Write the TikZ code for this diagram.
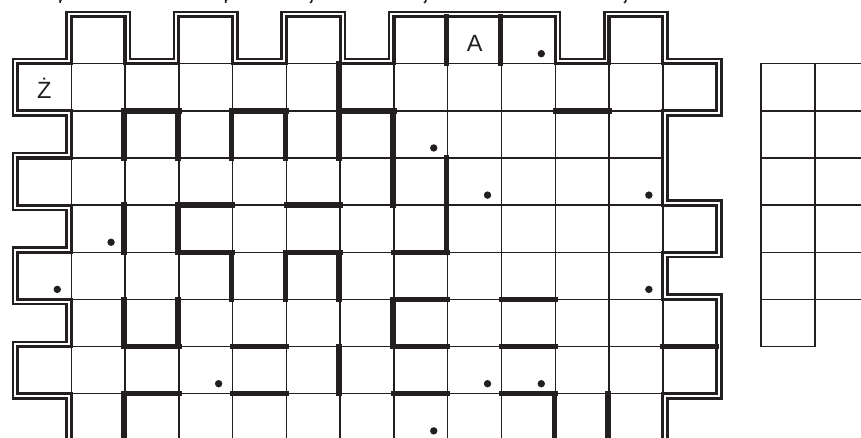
\documentclass[tikz,border=0pt]{standalone}
\usepackage{fontspec}
\setmainfont{Liberation Sans}
\definecolor{ink}{RGB}{35,31,32}
\newcommand\gridoutline{(1,0) -- (2,0) -- (2,1) -- (3,1) -- (3,0) -- (4,0) -- (4,1) -- (5,1) -- (5,0) -- (6,0) -- (6,1) -- (7,1) -- (7,0) -- (10,0) -- (10,1) -- (11,1) -- (11,0) -- (12,0) -- (12,1) -- (13,1) -- (13,2) -- (12,2) -- (12,4) -- (13,4) -- (13,5) -- (12,5) -- (12,6) -- (13,6) -- (13,8) -- (12,8) -- (12,9) -- (1,9) -- (1,8) -- (0,8) -- (0,7) -- (1,7) -- (1,6) -- (0,6) -- (0,5) -- (1,5) -- (1,4) -- (0,4) -- (0,3) -- (1,3) -- (1,2) -- (0,2) -- (0,1) -- (1,1) -- cycle}
\begin{document}
\begin{tikzpicture}[x=53.78pt,y=-47.15pt,
  thingrid/.style={draw=ink,line width=1.5pt},
  wall/.style={draw=ink,line width=5.4pt,line cap=rect},
  dotmark/.style={fill=ink,circle,inner sep=0pt,minimum size=7.4pt},
  letter/.style={font=\fontsize{23.5}{23.5}\selectfont,text=ink,anchor=base,inner sep=0pt},
  tail/.style={draw=ink,line width=1.6pt}]
\useasboundingbox[fill=white] (-17.5pt,16.5pt) rectangle (843.5pt,-420.5pt);
% double border
\draw[ink,line width=12pt,line join=miter] \gridoutline;
\draw[white,line width=7pt,line join=miter] \gridoutline;
\fill[white] \gridoutline;
% cells
\foreach \r/\cs in {0/{1,3,5,7,8,9,11},1/{0,...,12},2/{1,...,11},3/{0,...,11},4/{1,...,12},5/{0,...,11},6/{1,...,12},7/{0,...,12},8/{1,...,11}}
  \foreach \c in \cs
    \draw[thingrid] (\c,\r) rectangle ++(1,1);
\draw[ink,line width=3.2pt,line join=miter] \gridoutline;
% thick walls
\begin{scope}[xshift=-1pt]
\draw[wall] (8,0) -- (8,1) (9,0) -- (9,1) (6,1) -- (6,3)
  (2,2) -- (2,3) (3,2) -- (3,3) (4,2) -- (4,3) (5,2) -- (5,3)
  (7,2) -- (7,4) (8,3) -- (8,5) (2,4) -- (2,5) (3,4) -- (3,5)
  (4,5) -- (4,6) (5,5) -- (5,6) (6,5) -- (6,6)
  (2,6) -- (2,7) (3,6) -- (3,7) (7,6) -- (7,7) (6,7) -- (6,8)
  (2,8) -- (2,9) (10,8) -- (10,9) (11,8) -- (11,9);
\end{scope}
\draw[wall] (2,2) -- (3,2) (4,2) -- (5,2) (6,2) -- (7,2) (10,2) -- (11,2)
  (3,4) -- (4,4) (5,4) -- (6,4)
  (3,5) -- (4,5) (5,5) -- (6,5) (7,5) -- (8,5)
  (7,6) -- (8,6) (9,6) -- (10,6)
  (2,7) -- (3,7) (4,7) -- (5,7) (7,7) -- (8,7) (9,7) -- (10,7) (12,7) -- (13,7)
  (2,8) -- (3,8) (4,8) -- (5,8) (7,8) -- (8,8) (9,8) -- (10,8);
% dots
\foreach \c/\r in {9/0,7/2,8/3,11/3,1/4,0/5,11/5,3/7,8/7,9/7,7/8}
  \node[dotmark] (d\c-\r) at ([xshift=-14pt,yshift=10pt]\c+1,\r+1) {};
% letters
\node[letter] (zdot) at ([yshift=12.3pt]0.5,2) {Ż};
\node[letter] (alet) at ([yshift=12.3pt]8.5,1) {A};
% side grid
\foreach \r in {1,...,6}
  \draw[thingrid] (13.825,\r) rectangle ++(1,1);
\foreach \r in {1,...,5}
  \draw[thingrid] (14.83,\r) rectangle ++(1,1);
% descender tails of cut-off text above
\draw[tail] (43.8pt,16.8pt) .. controls (42.2pt,15.6pt) .. (42.9pt,13.6pt);
\draw[tail] (209.3pt,16.8pt) .. controls (207.7pt,15.6pt) .. (208.4pt,13.6pt);
\draw[tail] (294.5pt,16.8pt) .. controls (294.2pt,14.6pt) .. (292.4pt,13.8pt);
\draw[tail] (408.5pt,16.8pt) .. controls (408.2pt,14.6pt) .. (406.4pt,13.8pt);
\draw[tail] (608.5pt,16.8pt) .. controls (608.2pt,14.6pt) .. (606.4pt,13.8pt);
\end{tikzpicture}
\end{document}
